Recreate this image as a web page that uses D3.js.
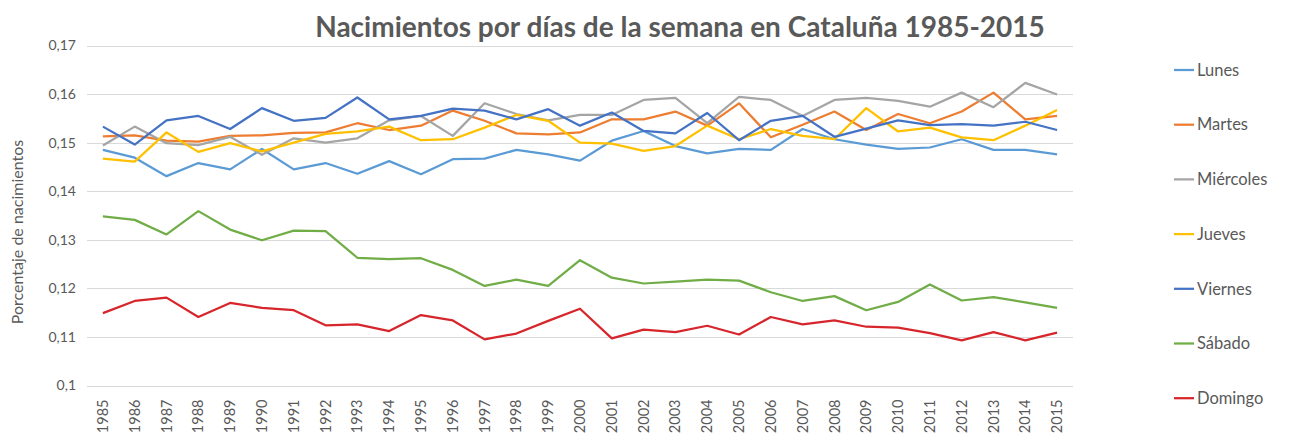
<!DOCTYPE html>
<html>
<head>
<meta charset="utf-8">
<script src="https://cdn.jsdelivr.net/npm/d3@7"></script>
<style>
  body { margin: 0; background: #fff; }
  text { font-family: Lato, "Open Sans", sans-serif; fill: #595959; }
</style>
</head>
<body>
<div id="chart"></div>
<script>
// years on the category axis
var years = ["1985","1986","1987","1988","1989","1990","1991","1992","1993","1994","1995",
  "1996","1997","1998","1999","2000","2001","2002","2003","2004","2005","2006","2007",
  "2008","2009","2010","2011","2012","2013","2014","2015"];

var yTicks = [0.10, 0.11, 0.12, 0.13, 0.14, 0.15, 0.16, 0.17];
var yTickLabels = ["0,1", "0,11", "0,12", "0,13", "0,14", "0,15", "0,16", "0,17"];

var seriesNames = ["Lunes", "Martes", "Miércoles", "Jueves", "Viernes", "Sábado", "Domingo"];

var lunes = [0.1485, 0.1469, 0.1431, 0.1458, 0.1445, 0.1487, 0.1445, 0.1458, 0.1436, 0.1462, 0.1435,
  0.1466, 0.1467, 0.1485, 0.1476, 0.1463, 0.1504, 0.1524, 0.1493, 0.1478, 0.1487, 0.1485, 0.1528,
  0.1507, 0.1496, 0.1487, 0.1490, 0.1507, 0.1485, 0.1485, 0.1476];
var martes = [0.1513, 0.1515, 0.1504, 0.1502, 0.1514, 0.1515, 0.1520, 0.1521, 0.1540, 0.1526, 0.1535,
  0.1566, 0.1545, 0.1519, 0.1517, 0.1521, 0.1548, 0.1548, 0.1564, 0.1535, 0.1581, 0.1511, 0.1537,
  0.1564, 0.1526, 0.1559, 0.1540, 0.1564, 0.1603, 0.1548, 0.1555];
var miercoles = [0.1494, 0.1533, 0.1499, 0.1495, 0.1512, 0.1475, 0.1509, 0.1500, 0.1509, 0.1546, 0.1555,
  0.1514, 0.1581, 0.1559, 0.1546, 0.1557, 0.1557, 0.1588, 0.1592, 0.1540, 0.1594, 0.1588, 0.1555,
  0.1588, 0.1592, 0.1586, 0.1574, 0.1603, 0.1573, 0.1623, 0.1599];
var jueves = [0.1467, 0.1461, 0.1521, 0.1481, 0.1499, 0.1482, 0.1500, 0.1518, 0.1523, 0.1533, 0.1505,
  0.1507, 0.1531, 0.1557, 0.1545, 0.1500, 0.1498, 0.1483, 0.1493, 0.1535, 0.1507, 0.1528, 0.1514,
  0.1507, 0.1571, 0.1523, 0.1531, 0.1511, 0.1505, 0.1535, 0.1567];
var viernes = [0.1533, 0.1496, 0.1546, 0.1555, 0.1528, 0.1571, 0.1545, 0.1551, 0.1593, 0.1548, 0.1555,
  0.1570, 0.1566, 0.1548, 0.1569, 0.1535, 0.1562, 0.1524, 0.1519, 0.1561, 0.1505, 0.1545, 0.1555,
  0.1512, 0.1529, 0.1546, 0.1536, 0.1538, 0.1535, 0.1543, 0.1526];
var sabado = [0.1348, 0.1341, 0.1311, 0.1359, 0.1321, 0.1299, 0.1319, 0.1318, 0.1263, 0.1260, 0.1262,
  0.1238, 0.1205, 0.1218, 0.1205, 0.1258, 0.1222, 0.1210, 0.1214, 0.1218, 0.1216, 0.1192, 0.1174,
  0.1184, 0.1155, 0.1172, 0.1208, 0.1175, 0.1182, 0.1171, 0.1160];
var domingo = [0.1149, 0.1174, 0.1181, 0.1141, 0.1170, 0.1160, 0.1155, 0.1124, 0.1126, 0.1112, 0.1145,
  0.1134, 0.1095, 0.1107, 0.1133, 0.1158, 0.1097, 0.1115, 0.1110, 0.1123, 0.1105, 0.1141, 0.1126,
  0.1134, 0.1121, 0.1119, 0.1108, 0.1093, 0.1110, 0.1093, 0.1109];

var colors = ["#5b9bd5", "#ed7d31", "#a5a5a5", "#ffc000", "#4472c4", "#70ad47", "#d7262b"];

var series = [lunes, martes, miercoles, jueves, viernes, sabado, domingo].map(function(vals, i) {
  return { name: seriesNames[i], color: colors[i], values: vals };
});

var width = 1295, height = 443;
var margin = { top: 45.5, right: 222, bottom: 57.5, left: 87 };

var svg = d3.select("#chart").append("svg")
  .attr("width", width)
  .attr("height", height);

var x = d3.scaleBand()
  .domain(years)
  .range([margin.left, width - margin.right]);

var y = d3.scaleLinear()
  .domain([0.10, 0.17])
  .range([height - margin.bottom, margin.top]);

// gridlines
svg.append("g")
  .selectAll("line")
  .data(yTicks)
  .enter().append("line")
  .attr("x1", margin.left)
  .attr("x2", width - margin.right)
  .attr("y1", function(d) { return Math.round(y(d)) + 0.5; })
  .attr("y2", function(d) { return Math.round(y(d)) + 0.5; })
  .attr("stroke", "#d9d9d9")
  .attr("stroke-width", 1);

// y axis labels
var yAxis = d3.axisLeft(y)
  .tickValues(yTicks)
  .tickFormat(function(d, i) { return yTickLabels[i]; })
  .tickSize(0)
  .tickPadding(11);

svg.append("g")
  .attr("transform", "translate(" + margin.left + ",0)")
  .call(yAxis)
  .call(function(g) { g.select(".domain").remove(); })
  .selectAll("text")
  .style("font-size", "14px")
  .style("font-family", "Lato, sans-serif")
  .attr("fill", "#595959");

// x axis labels, rotated
var xAxis = d3.axisBottom(x).tickSize(0).tickPadding(0);

svg.append("g")
  .attr("transform", "translate(0," + (height - margin.bottom) + ")")
  .call(xAxis)
  .call(function(g) { g.select(".domain").remove(); })
  .selectAll("text")
  .attr("transform", "rotate(-90)")
  .attr("x", -14)
  .attr("y", 0)
  .attr("dy", "0.35em")
  .attr("text-anchor", "end")
  .style("font-size", "14.5px")
  .style("font-family", "Lato, sans-serif")
  .attr("fill", "#595959");

// lines
var line = d3.line()
  .x(function(d, i) { return x(years[i]) + x.bandwidth() / 2; })
  .y(function(d) { return y(d); });

svg.append("g")
  .selectAll("path")
  .data(series)
  .enter().append("path")
  .attr("d", function(d) { return line(d.values); })
  .attr("fill", "none")
  .attr("stroke", function(d) { return d.color; })
  .attr("stroke-width", 2.25)
  .attr("stroke-linejoin", "round");

// title
svg.append("text")
  .attr("x", 680)
  .attr("y", 37)
  .attr("text-anchor", "middle")
  .style("font-size", "28px")
  .style("font-weight", "bold")
  .text("Nacimientos por días de la semana en Cataluña 1985-2015");

// y axis title
svg.append("text")
  .attr("transform", "translate(23,232) rotate(-90)")
  .attr("text-anchor", "middle")
  .style("font-size", "16px")
  .text("Porcentaje de nacimientos");

// legend
var legend = svg.append("g")
  .attr("transform", "translate(1174,70)");

var items = legend.selectAll("g")
  .data(series)
  .enter().append("g")
  .attr("transform", function(d, i) { return "translate(0," + (i * 54.7) + ")"; });

items.append("line")
  .attr("x1", 0)
  .attr("x2", 20)
  .attr("stroke", function(d) { return d.color; })
  .attr("stroke-width", 2.25);

items.append("text")
  .attr("x", 23)
  .attr("dy", "0.35em")
  .style("font-size", "16.5px")
  .text(function(d) { return d.name; });
</script>
</body>
</html>
